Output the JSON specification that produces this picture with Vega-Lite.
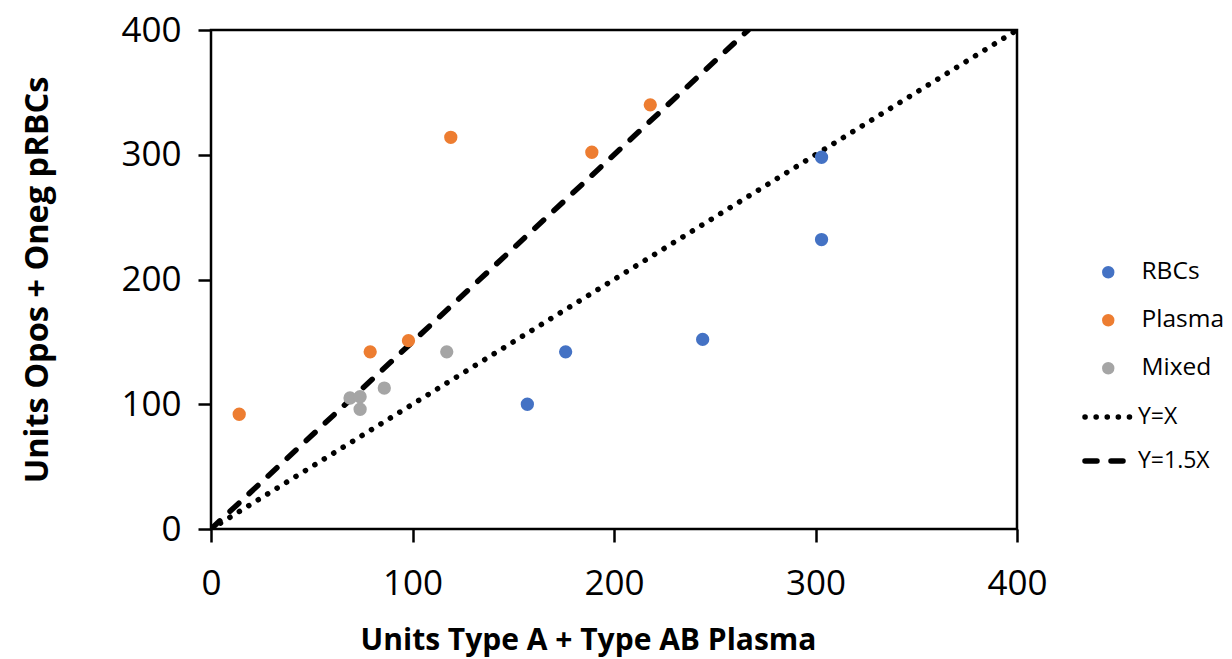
{
  "$schema": "https://vega.github.io/schema/vega-lite/v6.json",
  "width": 806,
  "height": 499,
  "autosize": {"type": "none"},
  "padding": {"left": 211, "top": 30, "right": 215, "bottom": 130},
  "background": "white",
  "config": {
    "font": "Open Sans",
    "view": {"stroke": "black", "strokeWidth": 2.5},
    "axis": {"grid": false, "domain": false, "tickColor": "black", "tickSize": 13, "tickWidth": 2.5,
             "labelFont": "Open Sans", "labelFontSize": 35, "labelColor": "black", "labelFlush": false,
             "titleFont": "Open Sans", "titleFontWeight": "bold", "titleColor": "black"}
  },
  "datasets": {
    "points": [
      {"group": "RBCs", "x": 157, "y": 100},
      {"group": "RBCs", "x": 176, "y": 142},
      {"group": "RBCs", "x": 244, "y": 152},
      {"group": "RBCs", "x": 303, "y": 232},
      {"group": "RBCs", "x": 303, "y": 298},
      {"group": "Plasma", "x": 14, "y": 92},
      {"group": "Plasma", "x": 79, "y": 142},
      {"group": "Plasma", "x": 98, "y": 151},
      {"group": "Plasma", "x": 119, "y": 314},
      {"group": "Plasma", "x": 189, "y": 302},
      {"group": "Plasma", "x": 218, "y": 340},
      {"group": "Mixed", "x": 69, "y": 105},
      {"group": "Mixed", "x": 74, "y": 106},
      {"group": "Mixed", "x": 74, "y": 96},
      {"group": "Mixed", "x": 86, "y": 113},
      {"group": "Mixed", "x": 117, "y": 142}
    ],
    "lines": [
      {"series": "Y=X", "x": 0, "y": 0},
      {"series": "Y=X", "x": 400, "y": 400},
      {"series": "Y=1.5X", "x": 0, "y": 0},
      {"series": "Y=1.5X", "x": 266.67, "y": 400}
    ]
  },
  "layer": [
    {
      "data": {"name": "lines"},
      "mark": {"type": "line", "color": "black", "strokeWidth": 5.5, "strokeCap": "round", "clip": true},
      "encoding": {
        "x": {"field": "x", "type": "quantitative", "scale": {"domain": [0, 400], "nice": false},
              "axis": {"values": [0, 100, 200, 300, 400], "title": "Units Type A + Type AB Plasma", "titleFontSize": 30,
                       "labelPadding": 24, "titlePadding": 24, "titleX": 377}},
        "y": {"field": "y", "type": "quantitative", "scale": {"domain": [0, 400], "nice": false},
              "axis": {"values": [0, 100, 200, 300, 400], "title": "Units Opos + Oneg pRBCs", "titleFontSize": 32.5,
                       "labelPadding": 17, "titlePadding": 66}},
        "strokeDash": {"field": "series", "type": "nominal",
          "scale": {"domain": ["Y=X", "Y=1.5X"], "range": [[0.1, 11], [12, 14]]},
          "legend": {"title": null, "orient": "none", "legendX": 871, "legendY": 360, "labelFontSize": 23, "labelFont": "Open Sans",
                     "labelColor": "black",
                     "symbolType": "stroke", "symbolSize": 2304, "symbolStrokeWidth": 5.5, "symbolStrokeColor": "black",
                     "rowPadding": 5, "labelOffset": 2,
                     "encoding": {"symbols": {"strokeCap": {"value": "round"}}}}},
        "detail": {"field": "series"}
      }
    },
    {
      "data": {"name": "points"},
      "mark": {"type": "point", "filled": true, "opacity": 1, "size": 177, "shape": "circle"},
      "encoding": {
        "x": {"field": "x", "type": "quantitative"},
        "y": {"field": "y", "type": "quantitative"},
        "color": {"field": "group", "type": "nominal",
          "scale": {"domain": ["RBCs", "Plasma", "Mixed"], "range": ["#4472C4", "#ED7D31", "#A5A5A5"]},
          "legend": {"title": null, "orient": "none", "legendX": 885, "legendY": 230, "labelFontSize": 24.5, "labelFont": "Open Sans",
                     "labelColor": "black",
                     "symbolType": "circle", "symbolSize": 154, "rowPadding": 23, "labelOffset": 21, "symbolOpacity": 1}}
      }
    }
  ],
  "resolve": {"scale": {"color": "independent"}}
}
